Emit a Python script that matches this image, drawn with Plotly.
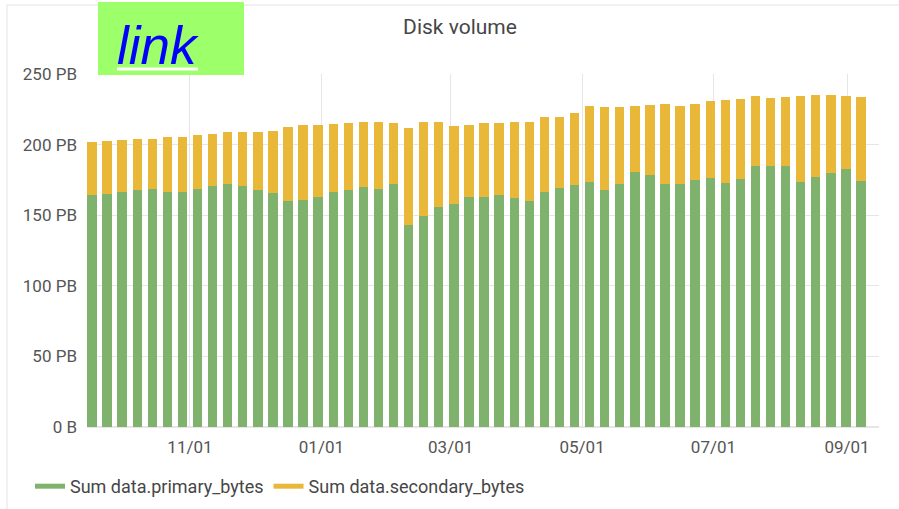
import pandas as pd
import plotly.graph_objects as go

# ---- data (PB), weekly buckets ----
week_start = "2019-09-16 12:00"
n_weeks = 52
primary_pb = [164.6, 165.3, 166.5, 168.2, 168.7, 166.5, 166.7, 168.4, 170.6, 172.0,
              170.8, 168.0, 166.0, 159.8, 160.8, 163.2, 166.3, 167.7, 169.9, 168.4,
              171.8, 143.3, 149.3, 156.0, 158.1, 162.9, 162.9, 164.4, 162.4, 160.1,
              166.5, 169.6, 171.3, 173.4, 167.7, 172.0, 180.9, 178.7, 172.2, 171.8,
              174.9, 176.1, 173.0, 175.6, 184.9, 184.9, 184.9, 173.7, 177.3, 179.9,
              182.5, 174.2]
total_pb = [201.9, 202.6, 203.6, 204.3, 204.3, 205.3, 205.7, 206.5, 207.7, 208.9,
            208.6, 209.1, 209.8, 212.7, 213.6, 214.1, 214.4, 215.6, 216.3, 215.8,
            215.1, 211.5, 215.8, 215.8, 212.9, 213.6, 215.1, 215.6, 216.0, 216.0,
            219.9, 219.9, 222.2, 227.5, 226.3, 226.8, 227.5, 228.2, 228.9, 227.5,
            228.9, 230.6, 231.6, 232.3, 234.7, 233.0, 234.0, 234.7, 234.9, 234.9,
            234.7, 233.7]
secondary_pb = [round(t - p, 1) for t, p in zip(total_pb, primary_pb)]
dates = pd.date_range(week_start, periods=n_weeks, freq="7D")

y_tickvals = [0, 50, 100, 150, 200, 250]
y_ticktext = ["0 B", "50 PB", "100 PB", "150 PB", "200 PB", "250 PB"]
series_names = ["Sum data.primary_bytes", "Sum data.secondary_bytes"]
colors = ["#7EB26D", "#EAB839"]

# ---- layout geometry helpers (pixels -> paper) ----
W, H = 899, 509
L, R, T, B = 87, 879, 74, 427
def px(x):
    return (x - L) / (R - L)
def py(y):
    return (B - y) / (B - T)

bar_w = 0.62 * 7 * 24 * 3600 * 1000

fig = go.Figure()
for name, vals, c in zip(series_names, [primary_pb, secondary_pb], colors):
    fig.add_trace(go.Bar(x=dates, y=vals, name=name, marker_color=c,
                         marker_line_width=0, width=bar_w, showlegend=False))
for name, c in zip(series_names, colors):
    fig.add_trace(go.Scatter(x=[None], y=[None], mode="lines", name=name,
                             line=dict(color=c, width=5)))

fig.update_layout(
    width=W, height=H,
    margin=dict(l=L, r=W - R, t=T, b=H - B, autoexpand=False),
    barmode="stack",
    paper_bgcolor="white", plot_bgcolor="white",
    font=dict(family="Roboto", color="#555555"),
    title=dict(text="Disk volume", x=460 / W, xanchor="center", xref="container",
               y=1 - 27 / H, yanchor="middle",
               font=dict(family="Roboto", size=21, color="#464646")),
    showlegend=True,
    legend=dict(orientation="h", x=px(30), xanchor="left", y=py(468), yanchor="top",
                traceorder="normal",
                font=dict(family="Roboto", size=18, color="#464646"),
                bgcolor="rgba(0,0,0,0)", itemwidth=30),
    xaxis=dict(type="date", range=["2019-09-14 05:00", "2020-09-15 20:00"],
               tick0="2019-11-01", dtick="M2", tickformat="%m/%d",
               showgrid=True, gridcolor="#e6e6e6", zeroline=False, showline=False,
               ticks="", ticklabelstandoff=8, automargin=False,
               tickfont=dict(family="Roboto", size=17, color="#555555")),
    yaxis=dict(range=[0, 250], tickvals=y_tickvals, ticktext=y_ticktext,
               showgrid=True, gridcolor="#e6e6e6", zeroline=True, zerolinecolor="#e6e6e6",
               showline=False, ticks="", ticklabelstandoff=9, automargin=False,
               tickfont=dict(family="Roboto", size=17, color="#555555")),
    shapes=[
        dict(type="rect", xref="paper", yref="paper", x0=px(7), x1=px(905), y0=py(5), y1=py(520),
             line=dict(color="#e2e2e2", width=1), fillcolor="rgba(0,0,0,0)", layer="below"),
        dict(type="rect", xref="paper", yref="paper", x0=px(98), x1=px(244), y0=py(2), y1=py(75),
             line=dict(width=0), fillcolor="#9dff69", layer="above"),
        dict(type="line", xref="paper", yref="paper", x0=px(117), x1=px(198), y0=py(69), y1=py(69),
             line=dict(color="white", width=3), layer="above"),
    ],
    annotations=[
        dict(text="link", xref="paper", yref="paper", x=px(115), y=py(45),
             xanchor="left", yanchor="middle", showarrow=False,
             font=dict(family="Liberation Sans", size=53, color="#0000ff", style="italic")),
    ],
)

fig.write_html("out.html", config={"displayModeBar": False},
               post_script="document.body.style.margin='0';document.body.style.overflow='hidden';")
